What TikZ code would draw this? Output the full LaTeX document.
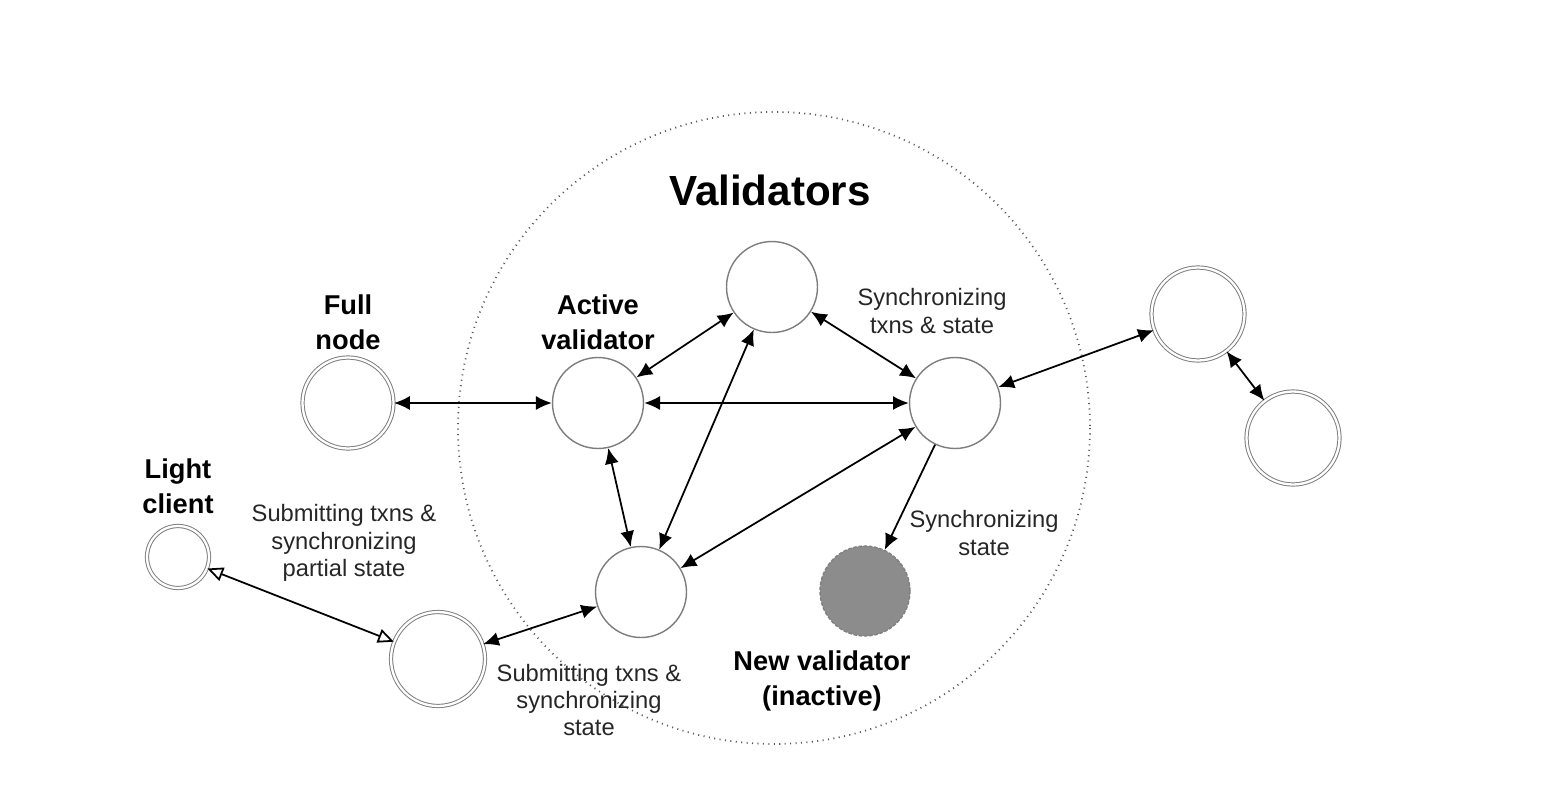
\documentclass[tikz,border=0pt]{standalone}
\usepackage{fontspec}
\setmainfont{Liberation Sans}
\usetikzlibrary{arrows.meta}
\definecolor{ringgray}{RGB}{125,125,125}
\definecolor{inactivegray}{RGB}{140,140,140}
\tikzset{
    % validator inside the set (single ring)
    peer/.style={
        circle, draw=ringgray, fill=white,
        minimum size=1.82cm, inner sep=0pt, line width=0.8pt
    },
    % nodes outside the set (double ring)
    outerpeer/.style={
        circle, draw=ringgray, double=white, double distance=1.3pt,
        fill=white, minimum size=1.82cm, inner sep=0pt, line width=0.55pt
    },
    smallouterpeer/.style={outerpeer, minimum size=1.24cm},
    % validator that is not active yet
    newpeer/.style={
        circle, draw=black!50, fill=inactivegray, dash pattern=on 2pt off 1pt,
        minimum size=1.8cm, inner sep=0pt, line width=0.8pt
    },
    % labels
    roletag/.style={font=\fontsize{15.5}{20}\selectfont\bfseries, align=center},
    flowtag/.style={font=\fontsize{13.5}{15.5}\selectfont, align=center, text=black!85},
    settag/.style={font=\fontsize{24}{28}\selectfont\bfseries},
}
\tikzset{
    % connectors
    link/.style={{Latex[length=9pt,width=8pt]}-{Latex[length=9pt,width=8pt]}, line width=1pt},
    onewaylink/.style={-{Latex[length=9pt,width=8pt]}, line width=1pt},
    lightlink/.style={{Triangle[open,length=9pt,width=8pt]}-{Triangle[open,length=9pt,width=8pt]}, line width=1pt},
    setborder/.style={draw=black!65, line width=1pt, dash pattern=on 0.6pt off 2.5pt},
}

\begin{document}
\begin{tikzpicture}[x=0.02cm,y=-0.02cm]
      \useasboundingbox (0,0) rectangle (1552,788);
      % the validator set
      \draw[setborder] (774,428) circle [radius=316];
      \node[settag] (settitle) at (770,190) {Validators};
      % validators
      \node[peer] (tv) at (772,287) {};
      \node[peer] (av) at (598,403) {};
      \node[peer] (rv) at (955,403) {};
      \node[peer] (bv) at (641,592) {};
      \node[newpeer] (nv) at (865,591) {};
      % nodes outside the set
      \node[outerpeer] (fn) at (348,403) {};
      \node[outerpeer, minimum size=1.86cm] (rt) at (1198,314) {};
      \node[outerpeer, minimum size=1.86cm] (rb) at (1293,438) {};
      \node[outerpeer, minimum size=1.88cm] (bl) at (438,659) {};
      \node[smallouterpeer] (lc) at (178,557) {};
      % role labels
      \node[roletag] (fnlabel) at (348,322) {Full\\node};
      \node[roletag] (avlabel) at (598,322) {Active\\validator};
      \node[roletag] (lclabel) at (178,486) {Light\\client};
      \node[roletag] (nvlabel) at (822,681) {New validator\\(inactive)};
      % flow labels
      \node[flowtag] (synctop) at (932,311) {Synchronizing\\txns \& state};
      \node[flowtag] (syncnew) at (984,533) {Synchronizing\\state};
      \node[flowtag] (submitlight) at (344,543) {Submitting txns \&\\synchronizing\\partial state};
      \node[flowtag] (submitfull) at (589,700) {Submitting txns \&\\synchronizing\\state};
      % links between validators
      \draw[link] (av) -- (tv);
      \draw[link] (tv) -- (rv);
      \draw[link] (av) -- (rv);
      \draw[link] (av) -- (bv);
      \draw[link] (bv) -- (tv);
      \draw[link] (bv) -- (rv);
      \draw[onewaylink] (rv) -- (nv);
      % links leaving the set
      \draw[link] (fn) -- (av);
      \draw[link] (rv) -- (rt);
      \draw[link] (rt) -- (rb);
      \draw[link] (bv) -- (bl);
      \draw[lightlink] (lc) -- (bl);
\end{tikzpicture}
\end{document}
